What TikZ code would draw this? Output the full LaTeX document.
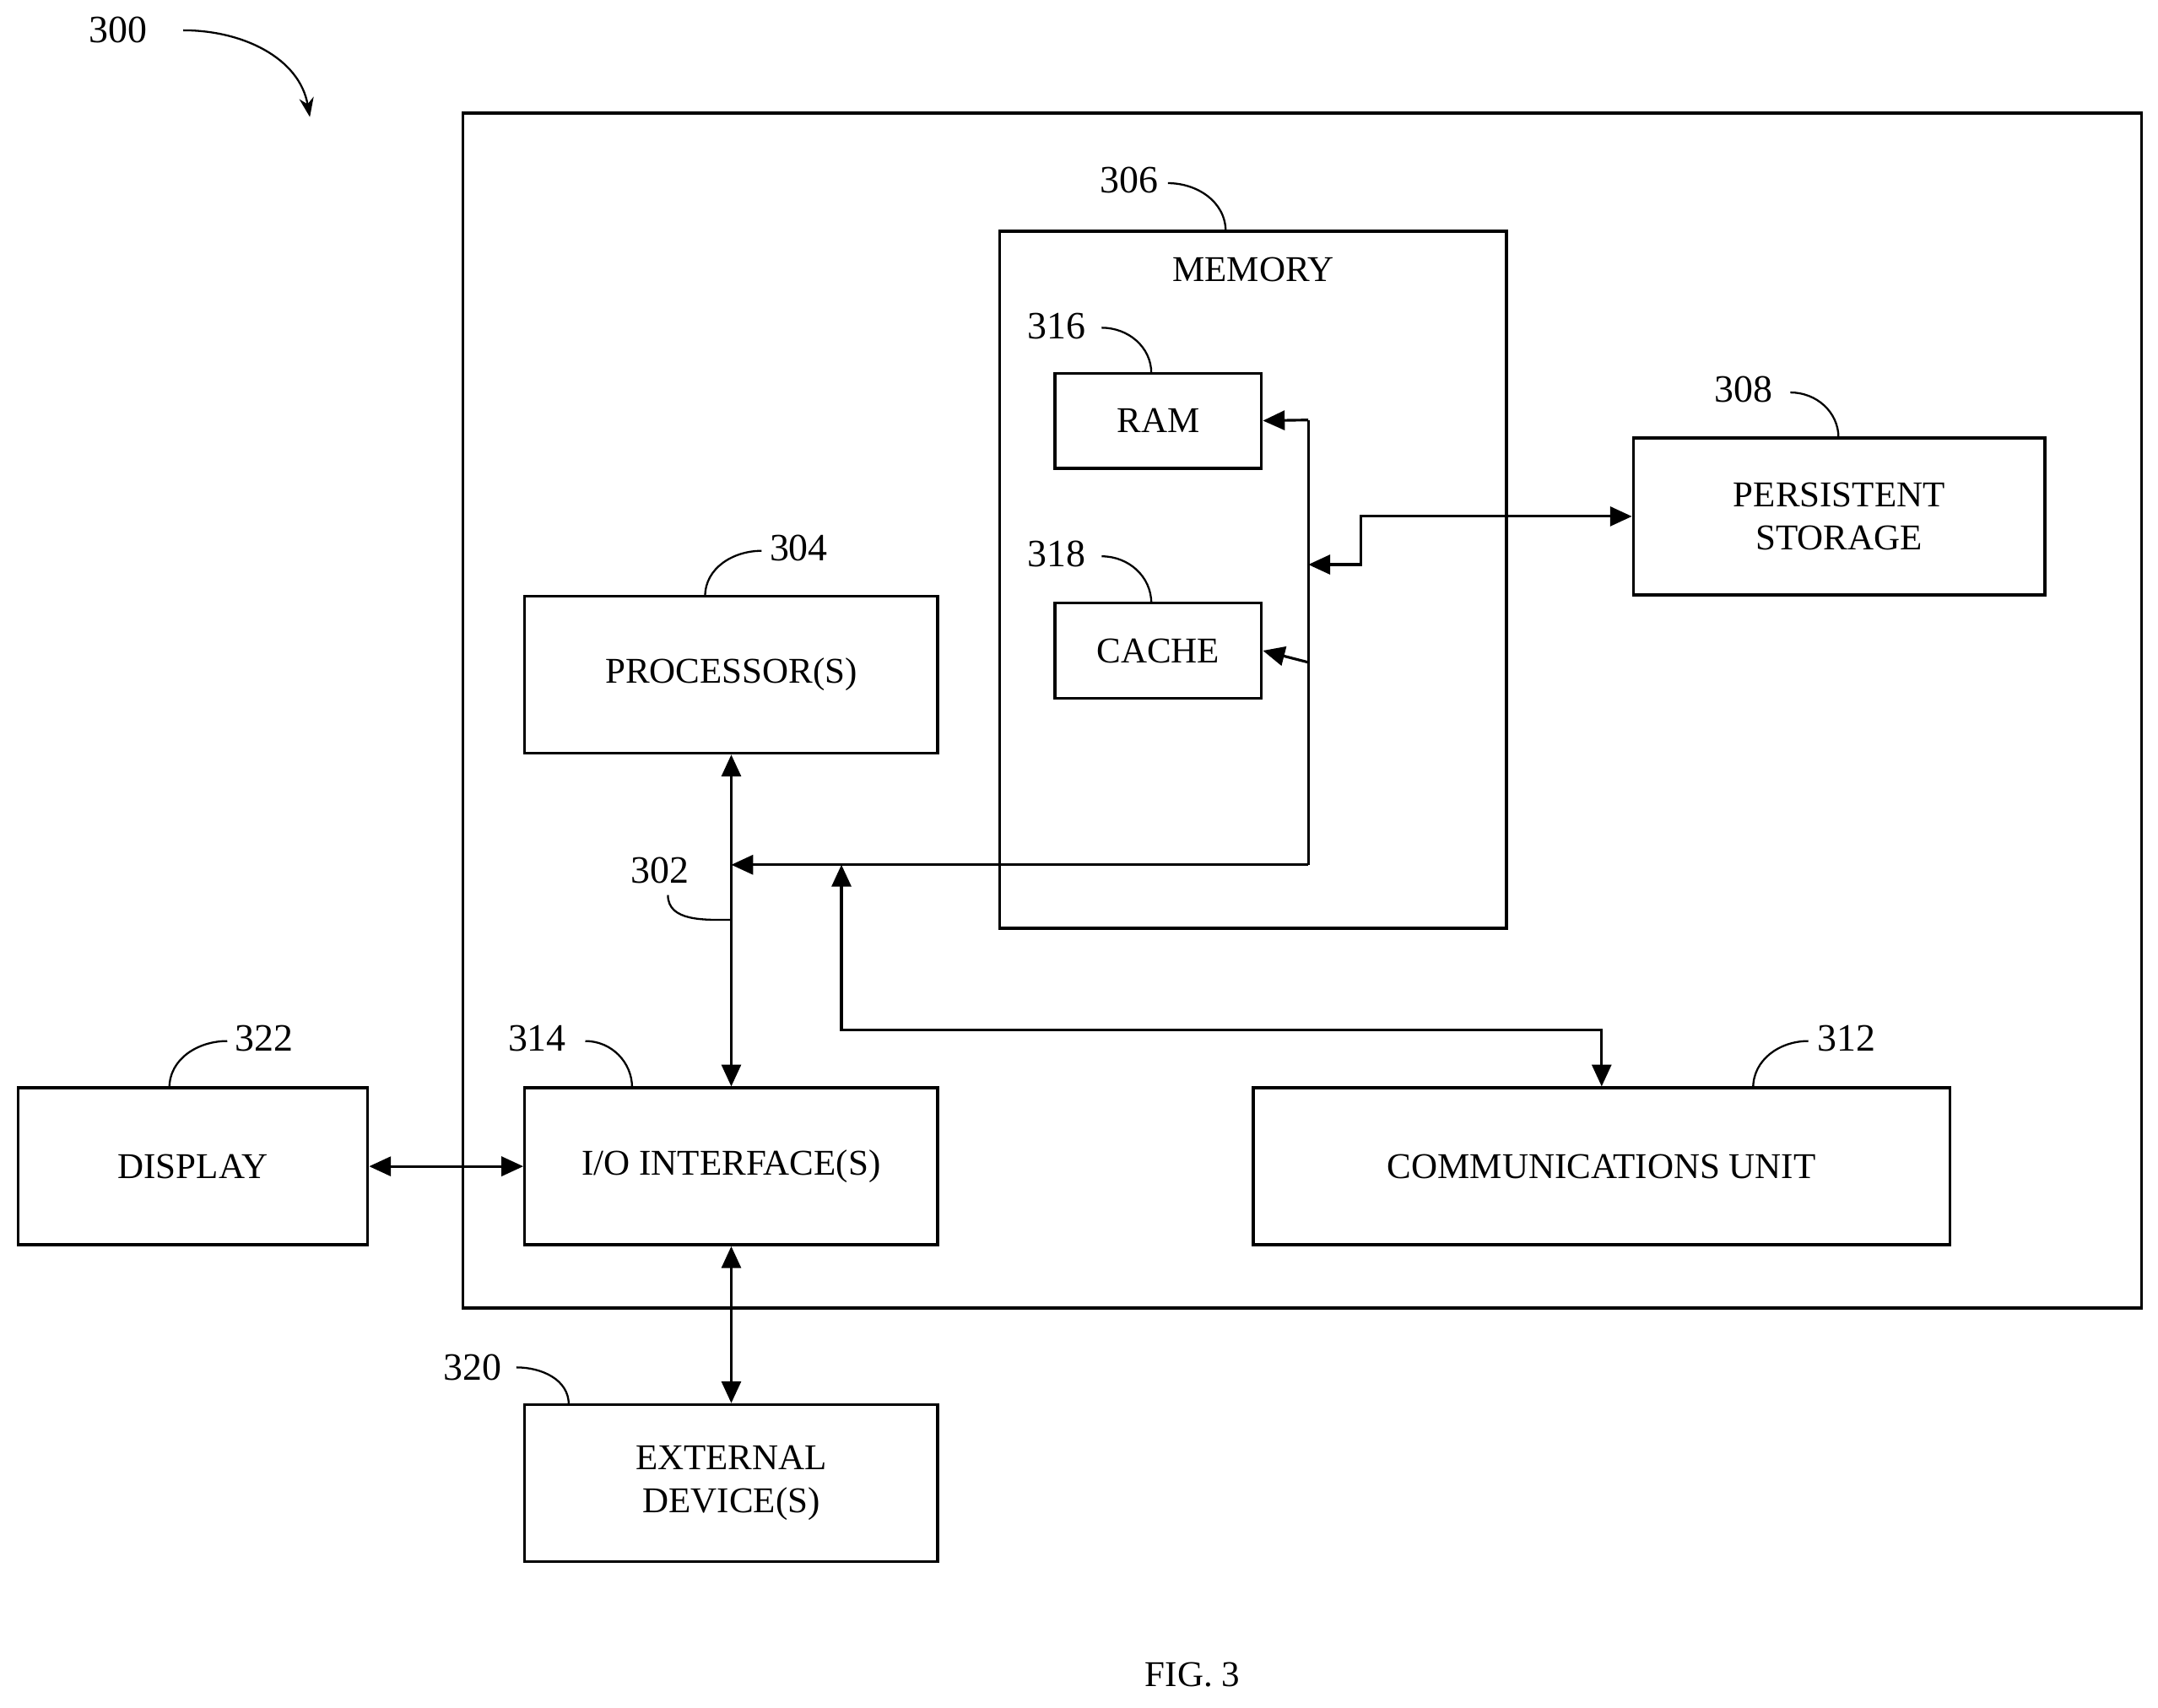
\documentclass[tikz,border=0pt]{standalone}
\usepackage{fontspec}
\setmainfont{Liberation Serif}
\usetikzlibrary{arrows.meta}
\begin{document}
\begin{tikzpicture}[x=0.02cm,y=-0.02cm,
  box/.style={draw,line width=1.2pt},
  lbl/.style={font=\fontsize{15}{18}\selectfont,align=center},
  num/.style={font=\fontsize{16}{18}\selectfont},
  ar/.style={line width=1.1pt,-{Triangle[length=9pt,width=8pt]}},
  dar/.style={line width=1.1pt,{Triangle[length=9pt,width=8pt]}-{Triangle[length=9pt,width=8pt]}},
  ld/.style={line width=0.8pt}]
\useasboundingbox (0,0) rectangle (1567,1240);
\draw[box] (336,82) rectangle (1555,950);
\draw[box] (726,168) rectangle (1094,674);
\node[lbl] (memlbl) at (910,196) {MEMORY};
\node[box,lbl,minimum width=3cm,minimum height=1.38cm] (ram) at (841,305.5) {RAM};
\node[box,lbl,minimum width=3cm,minimum height=1.38cm] (cache) at (841,472.5) {CACHE};
\node[box,lbl,minimum width=5.98cm,minimum height=2.28cm] (ps) at (1335.5,375) {PERSISTENT\\STORAGE};
\node[box,lbl,minimum width=6cm,minimum height=2.28cm] (proc) at (531,490) {PROCESSOR(S)};
\node[box,lbl,minimum width=6cm,minimum height=2.28cm] (io) at (531,847) {I/O INTERFACE(S)};
\node[box,lbl,minimum width=10.12cm,minimum height=2.28cm] (comm) at (1163,847) {COMMUNICATIONS UNIT};
\node[box,lbl,minimum width=5.08cm,minimum height=2.28cm] (disp) at (140,847) {DISPLAY};
\node[box,lbl,minimum width=6cm,minimum height=2.28cm] (ext) at (531,1077) {EXTERNAL\\DEVICE(S)};
\node[lbl] (fig) at (866,1216) {FIG. 3};
% bus
\coordinate (b1) at (531,628);
\coordinate (b2) at (950,628);
\coordinate (b3) at (950,410);
\coordinate (b4) at (611,628);
\draw[dar] (proc.south) -- (io.north);
\draw[ar] (b2) -- (b1);
\draw[line width=1.1pt] (b2) -- (950,305);
\draw[ar] (950,305) -- (ram.east);
\draw[ar] (950,481) -- (cache.east);
\draw[dar] (b3) -- (988,410) -- (988,375) -- (ps.west);
\draw[dar] (b4) -- (611,748) -- (1163,748) -- (comm.north);
\draw[dar] (disp.east) -- (io.west);
\draw[dar] (io.south) -- (ext.north);
% labels
\node[num] (n300) at (86,22) {300};
\draw[ld,-{Stealth[length=8pt]}] (133,22) to[out=0,in=100] (225,85);
\node[num] (n306) at (820,131) {306};
\draw[ld] (848,133) to[out=0,in=90] (890,168);
\node[num] (n316) at (767,237) {316};
\draw[ld] (800,238) to[out=0,in=90] (836,271);
\node[num] (n318) at (767,402) {318};
\draw[ld] (800,404) to[out=0,in=90] (836,438);
\node[num] (n308) at (1266,283) {308};
\draw[ld] (1300,285) to[out=0,in=90] (1335,318);
\node[num] (n304) at (580,398) {304};
\draw[ld] (553,400) to[out=180,in=90] (512,433);
\node[num] (n322) at (192,754) {322};
\draw[ld] (165,756) to[out=180,in=90] (123,790);
\node[num] (n314) at (390,754) {314};
\draw[ld] (425,756) to[out=0,in=90] (459,790);
\node[num] (n312) at (1341,754) {312};
\draw[ld] (1313,756) to[out=180,in=90] (1273,790);
\node[num] (n320) at (343,993) {320};
\draw[ld] (375,993) to[out=0,in=90] (413,1020);
\node[num] (n302) at (479,632) {302};
\draw[ld] (485,650) to[out=-90,in=180] (531,668);
\end{tikzpicture}
\end{document}
